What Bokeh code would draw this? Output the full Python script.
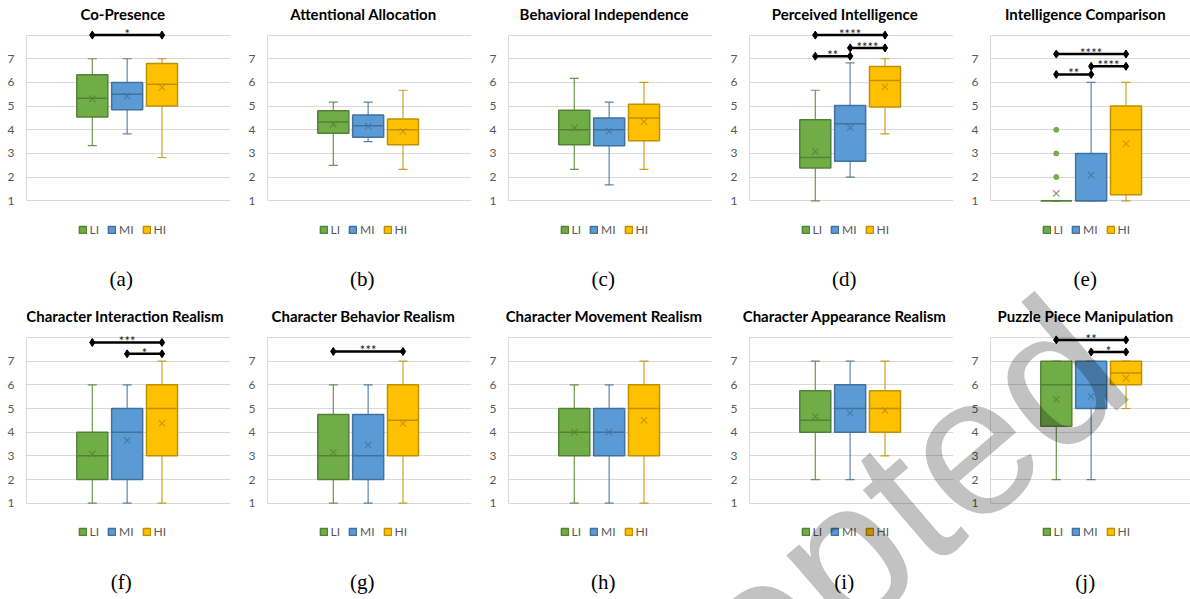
from bokeh.plotting import figure
from bokeh.models import Range1d, FixedTicker, Label, Legend, LegendItem, GridBox
from bokeh.embed import file_html
from bokeh.resources import INLINE
from bokeh.core.properties import value

# ---------------- data ----------------
groups = ["LI", "MI", "HI"]
titles = ["Co-Presence", "Attentional Allocation", "Behavioral Independence",
          "Perceived Intelligence", "Intelligence Comparison",
          "Character Interaction Realism", "Character Behavior Realism",
          "Character Movement Realism", "Character Appearance Realism",
          "Puzzle Piece Manipulation"]
captions = ["(a)", "(b)", "(c)", "(d)", "(e)", "(f)", "(g)", "(h)", "(i)", "(j)"]

whisker_low = [[3.33, 3.83, 2.83], [2.50, 3.50, 2.33], [2.33, 1.67, 2.33],
               [1.00, 2.00, 3.83], [1.00, 1.00, 1.00], [1, 1, 1], [1, 1, 1],
               [1, 1, 1], [2, 2, 3], [2, 2, 5]]
q1_vals = [[4.54, 4.85, 5.00], [3.85, 3.68, 3.37], [3.37, 3.33, 3.54],
           [2.39, 2.67, 4.96], [1.00, 1.00, 1.25], [2, 2, 3], [2, 2, 3],
           [3, 3, 3], [4, 4, 4], [4.25, 5, 6]]
median_vals = [[5.33, 5.50, 5.92], [4.33, 4.17, 4.00], [4.00, 4.00, 4.50],
               [2.83, 4.25, 6.08], [1.00, 1.00, 4.00], [3, 4, 5], [3, 3, 4.5],
               [4, 4, 5], [4.5, 5, 5], [6, 6, 6.5]]
q3_vals = [[6.33, 6.00, 6.80], [4.80, 4.62, 4.46], [4.83, 4.50, 5.08],
           [4.42, 5.03, 6.67], [1.00, 3.00, 5.00], [4, 5, 6], [4.75, 4.75, 6],
           [5, 5, 6], [5.75, 6, 5.75], [7, 7, 7]]
whisker_high = [[7, 7, 7], [5.17, 5.17, 5.67], [6.17, 5.17, 6.00],
                [5.67, 6.83, 7.00], [1.00, 6.00, 6.00], [6, 6, 7], [6, 6, 7],
                [6, 6, 7], [7, 7, 7], [7, 7, 7]]
mean_vals = [[5.31, 5.42, 5.79], [4.23, 4.16, 3.93], [4.08, 3.94, 4.34],
             [3.08, 4.09, 5.81], [1.31, 2.08, 3.41], [3.08, 3.65, 4.38],
             [3.15, 3.46, 4.37], [4.00, 4.00, 4.50], [4.66, 4.80, 4.92],
             [5.39, 5.51, 6.28]]
# outliers per panel, per group
outliers = [[[], [], []]] * 4 + [[[2.0, 3.0, 4.0], [], []]] + [[[], [], []]] * 5
# significance tests: (group a, group b, bar height, stars)
sig_tests = [
    [("LI", "HI", 8.0, "*")],
    [],
    [],
    [("LI", "MI", 7.11, "**"), ("MI", "HI", 7.46, "****"), ("LI", "HI", 8.0, "****")],
    [("LI", "MI", 6.34, "**"), ("MI", "HI", 6.68, "****"), ("LI", "HI", 7.2, "****")],
    [("MI", "HI", 7.31, "*"), ("LI", "HI", 7.79, "***")],
    [("LI", "HI", 7.41, "***")],
    [],
    [],
    [("MI", "HI", 7.39, "*"), ("LI", "HI", 7.9, "**")],
]
watermark = "Accepted"

# ---------------- style ----------------
fill_c = {"LI": "#70AD47", "MI": "#5B9BD5", "HI": "#FFC000"}
line_c = {"LI": "#548235", "MI": "#41719C", "HI": "#BF9000"}
FONT = "Lato"
BOX_W = 0.89
CAP_W = 0.26
PX_PER_X = 34.85
X_START = -1.888

children = []
for k in range(10):
    r, c = divmod(k, 5)
    w = 226 if c == 4 else 241
    h = 302 if r == 0 else 297
    mbr = 0 if c == 4 else 11
    frame_w = w - 26 - mbr
    x_end = X_START + frame_w / PX_PER_X
    if r == 0:
        y0, y1 = -3.297, 9.462
        leg_y = 65
    else:
        y0, y1 = -3.068, 9.479
        leg_y = 60
    p = figure(width=w, height=h, x_range=Range1d(X_START, x_end),
               y_range=Range1d(y0, y1), x_axis_type=None,
               output_backend="svg", toolbar_location=None,
               min_border_left=26, min_border_right=mbr,
               min_border_top=0, min_border_bottom=0,
               outline_line_color=None, background_fill_color="white",
               border_fill_color="white")
    p.ygrid.ticker = FixedTicker(ticks=[1, 2, 3, 4, 5, 6, 7, 8])
    p.ygrid.grid_line_color = "#d9d9d9"
    p.ygrid.grid_line_width = 1
    ax = p.yaxis[0]
    ax.ticker = FixedTicker(ticks=[1, 2, 3, 4, 5, 6, 7])
    ax.bounds = (1, 8)
    ax.axis_line_color = "#d9d9d9"
    ax.major_tick_line_color = None
    ax.minor_tick_line_color = None
    ax.major_label_standoff = 6
    ax.major_label_text_font = FONT
    ax.major_label_text_font_size = "12px"
    ax.major_label_text_color = "#595959"

    box_r = {}
    for gi, g in enumerate(groups):
        lo = whisker_low[k][gi]
        q1 = q1_vals[k][gi]
        md = median_vals[k][gi]
        q3 = q3_vals[k][gi]
        hi = whisker_high[k][gi]
        mn = mean_vals[k][gi]
        p.segment(x0=[gi, gi], y0=[q3, q1], x1=[gi, gi], y1=[hi, lo],
                  line_color=line_c[g], line_alpha=0.85, line_width=1.2)
        p.segment(x0=[gi - CAP_W / 2] * 2, y0=[hi, lo],
                  x1=[gi + CAP_W / 2] * 2, y1=[hi, lo],
                  line_color=line_c[g], line_alpha=0.85, line_width=1.2)
        box_r[g] = p.vbar(x=[gi], width=BOX_W, bottom=[q1], top=[q3],
                          fill_color=fill_c[g], line_color=line_c[g], line_width=1.5)
        p.segment(x0=[gi - BOX_W / 2], y0=[md], x1=[gi + BOX_W / 2], y1=[md],
                  line_color=line_c[g], line_width=1.5)
        p.scatter(x=[gi], y=[mn], marker="x", size=9, line_color=line_c[g],
                  line_width=1.2, line_alpha=0.75)
        outl = outliers[k][gi]
        if outl:
            p.scatter(x=[gi] * len(outl), y=outl, marker="circle", size=5,
                      fill_color=fill_c[g], line_color=fill_c[g])

    for (a, b, yv, stars) in sig_tests[k]:
        xa, xb = groups.index(a), groups.index(b)
        p.segment(x0=[xa], y0=[yv], x1=[xb], y1=[yv], line_color="black", line_width=2.5)
        p.scatter(x=[xa, xb], y=[yv, yv], marker="diamond", size=8,
                  fill_color="black", line_color="black")
        p.text(x=[(xa + xb) / 2], y=[yv], text=[stars], text_align="center",
               text_baseline="alphabetic", y_offset=-1, text_font=value(FONT),
               text_font_size="13px", text_color="#222222")

    legend = Legend(items=[LegendItem(label=g, renderers=[box_r[g]]) for g in groups],
                    orientation="horizontal", location=(51.5, leg_y),
                    glyph_width=9, glyph_height=9, label_standoff=3, spacing=8,
                    padding=0, margin=0, border_line_color=None,
                    background_fill_alpha=0, label_text_font=FONT,
                    label_text_font_size="12px", label_text_color="#595959",
                    label_height=9, label_width=0)
    p.add_layout(legend)

    p.add_layout(Label(x=0.83, y=-2.31 if r == 0 else -2.34, text=captions[k],
                       text_align="center", text_baseline="middle",
                       text_font="Liberation Serif", text_font_size="21px",
                       text_color="black"))
    children.append((p, r, c))

# transparent overlay (page coordinates) carrying titles and the watermark
ov = figure(width=1190, height=599, x_range=Range1d(24.3, 1190), y_range=Range1d(0, 599),
            x_axis_type=None, y_axis_type=None, output_backend="svg",
            toolbar_location=None, min_border=0, min_border_left=0,
            min_border_right=0, min_border_top=0, min_border_bottom=0,
            outline_line_color=None, background_fill_alpha=0, border_fill_alpha=0)
ov.xgrid.visible = False
ov.ygrid.visible = False
ov.title.visible = False
TITLE_CX = [120.7, 361.7, 602.7, 843.7, 1084.7, 123.0, 361.7, 602.7, 843.7, 1084.7]
for k in range(10):
    r = k // 5
    ov.add_layout(Label(x=TITLE_CX[k], y=599 - (13.5 if r == 0 else 315.5),
                        text=titles[k], text_align="center", text_baseline="middle",
                        text_font=FONT, text_font_style="bold",
                        text_font_size="15px", text_color="black"))
ov.add_layout(Label(x=778, y=599 - 609, text=watermark, angle=0.71, angle_units="rad",
                    text_align="center", text_baseline="middle",
                    text_font="Liberation Sans", text_font_size="199px",
                    text_color="black", text_alpha=0.24))
children.append((ov, 0, 0, 2, 5))

layout = GridBox(children=children, spacing=0)
open("out.html", "w").write(file_html(layout, INLINE))
